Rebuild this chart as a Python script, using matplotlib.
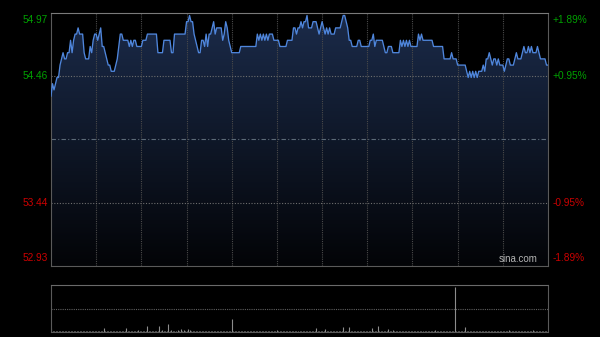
import numpy as np
import matplotlib
matplotlib.use('Agg')
import matplotlib.pyplot as plt
from matplotlib.patches import Polygon
from matplotlib.colors import LinearSegmentedColormap

# intraday prices, one per minute (0 = open, 330 = close)
price = [
    54.30, 54.40, 54.35, 54.40, 54.45, 54.45, 54.55, 54.60, 54.65, 54.60,
    54.60, 54.65, 54.65, 54.75, 54.65, 54.75, 54.80, 54.80, 54.85, 54.80,
    54.80, 54.80, 54.65, 54.60, 54.60, 54.60, 54.70, 54.65, 54.75, 54.80,
    54.80, 54.75, 54.80, 54.85, 54.70, 54.70, 54.65, 54.60, 54.55, 54.55,
    54.50, 54.50, 54.50, 54.55, 54.60, 54.70, 54.80, 54.80, 54.75, 54.75,
    54.75, 54.75, 54.70, 54.75, 54.70, 54.75, 54.75, 54.70, 54.70, 54.70,
    54.70, 54.75, 54.75, 54.75, 54.80, 54.80, 54.80, 54.80, 54.80, 54.80,
    54.80, 54.65, 54.65, 54.65, 54.65, 54.75, 54.75, 54.75, 54.75, 54.75,
    54.65, 54.65, 54.80, 54.80, 54.80, 54.80, 54.80, 54.80, 54.80, 54.80,
    54.90, 54.90, 54.95, 54.90, 54.90, 54.80, 54.75, 54.70, 54.65, 54.65,
    54.75, 54.75, 54.70, 54.80, 54.70, 54.80, 54.80, 54.85, 54.90, 54.80,
    54.85, 54.85, 54.85, 54.85, 54.75, 54.80, 54.90, 54.85, 54.75, 54.70,
    54.65, 54.65, 54.65, 54.65, 54.65, 54.65, 54.70, 54.70, 54.70, 54.70,
    54.70, 54.70, 54.70, 54.70, 54.70, 54.70, 54.70, 54.80, 54.75, 54.80,
    54.75, 54.80, 54.75, 54.80, 54.75, 54.80, 54.80, 54.80, 54.75, 54.75,
    54.75, 54.75, 54.70, 54.70, 54.70, 54.70, 54.70, 54.75, 54.75, 54.75,
    54.75, 54.85, 54.85, 54.80, 54.85, 54.85, 54.90, 54.85, 54.90, 54.90,
    54.95, 54.85, 54.85, 54.85, 54.90, 54.90, 54.90, 54.85, 54.80, 54.85,
    54.90, 54.85, 54.80, 54.85, 54.80, 54.85, 54.80, 54.80, 54.80, 54.85,
    54.85, 54.85, 54.85, 54.90, 54.95, 54.95, 54.90, 54.85, 54.75, 54.75,
    54.70, 54.70, 54.70, 54.70, 54.75, 54.75, 54.70, 54.70, 54.70, 54.70,
    54.70, 54.70, 54.75, 54.75, 54.80, 54.70, 54.75, 54.75, 54.75, 54.75,
    54.75, 54.70, 54.65, 54.65, 54.70, 54.70, 54.70, 54.65, 54.65, 54.65,
    54.65, 54.65, 54.75, 54.70, 54.75, 54.70, 54.75, 54.70, 54.75, 54.70,
    54.70, 54.70, 54.70, 54.70, 54.80, 54.75, 54.80, 54.75, 54.75, 54.75,
    54.75, 54.75, 54.75, 54.75, 54.70, 54.70, 54.70, 54.70, 54.70, 54.70,
    54.70, 54.60, 54.60, 54.60, 54.60, 54.60, 54.65, 54.60, 54.60, 54.60,
    54.55, 54.55, 54.55, 54.55, 54.55, 54.55, 54.50, 54.45, 54.50, 54.45,
    54.50, 54.45, 54.50, 54.45, 54.50, 54.50, 54.50, 54.55, 54.50, 54.60,
    54.60, 54.65, 54.60, 54.55, 54.60, 54.60, 54.55, 54.60, 54.55, 54.55,
    54.55, 54.50, 54.55, 54.60, 54.60, 54.55, 54.55, 54.55, 54.60, 54.65,
    54.60, 54.60, 54.60, 54.65, 54.70, 54.65, 54.65, 54.70, 54.65, 54.70,
    54.65, 54.65, 54.65, 54.70, 54.65, 54.60, 54.60, 54.60, 54.60, 54.55, 54.55,
]

# volume per minute (relative units)
volume = [
    8, 3, 2, 3, 2, 3, 2, 2, 3, 2,
    2, 3, 2, 2, 3, 2, 2, 3, 2, 2,
    3, 2, 2, 3, 2, 3, 2, 2, 2, 3,
    2, 3, 2, 3, 2, 8, 3, 2, 3, 2,
    2, 3, 2, 2, 3, 2, 3, 2, 2, 3,
    9, 3, 2, 3, 2, 2, 3, 2, 4, 2,
    3, 2, 3, 2, 13, 3, 2, 3, 2, 3,
    2, 3, 13, 3, 4, 2, 3, 3, 17, 3,
    4, 3, 2, 3, 4, 3, 6, 3, 4, 3,
    3, 6, 4, 3, 3, 2, 3, 2, 3, 2,
    2, 3, 2, 2, 3, 2, 2, 3, 2, 2,
    3, 2, 2, 3, 2, 3, 2, 2, 3, 3,
    28, 2, 2, 3, 2, 2, 2, 3, 2, 2,
    2, 3, 2, 2, 2, 3, 2, 2, 3, 2,
    2, 2, 3, 2, 2, 3, 2, 2, 2, 3,
    5, 2, 2, 3, 2, 2, 3, 2, 2, 2,
    3, 2, 2, 2, 3, 2, 2, 3, 2, 2,
    2, 3, 2, 2, 3, 2, 9, 3, 2, 2,
    3, 2, 6, 2, 3, 2, 2, 3, 2, 2,
    3, 2, 3, 2, 11, 3, 2, 3, 11, 3,
    2, 3, 2, 2, 3, 2, 2, 3, 2, 2,
    3, 2, 3, 9, 3, 2, 3, 13, 3, 2,
    3, 2, 3, 2, 6, 3, 2, 5, 2, 3,
    2, 2, 3, 2, 2, 3, 2, 2, 3, 2,
    2, 3, 2, 2, 3, 2, 2, 3, 2, 2,
    3, 2, 2, 3, 2, 5, 2, 3, 2, 2,
    3, 2, 2, 3, 2, 2, 3, 2, 96, 3,
    2, 3, 2, 3, 2, 11, 3, 2, 3, 2,
    2, 3, 2, 2, 3, 2, 2, 3, 2, 2,
    3, 2, 2, 3, 2, 2, 3, 2, 2, 3,
    2, 2, 3, 2, 5, 2, 3, 2, 2, 3,
    2, 2, 3, 2, 2, 3, 2, 2, 3, 2,
    5, 2, 3, 2, 2, 3, 2, 3, 2, 3, 3,
]

prev_close = 53.95
y_low, y_high = 52.93, 54.97
price_labels = ['54.97', '54.46', '53.44', '52.93']
price_levels = [54.97, 54.46, 53.44, 52.93]
pct_labels = ['+1.89%', '+0.95%', '-0.95%', '-1.89%']
grid_minutes = [30, 60, 90, 120, 150, 180, 210, 240, 270, 300]

minutes = np.arange(len(price))
x_end = len(price) - 1

plt.rcParams['font.family'] = ['Liberation Sans', 'DejaVu Sans']

fig = plt.figure(figsize=(6, 3.37), dpi=100, facecolor='black')
ax = fig.add_axes([51 / 600, 1 - 266 / 337, 497 / 600, 253 / 337])
vax = fig.add_axes([51 / 600, 1 - 332 / 337, 497 / 600, 47 / 337])

# price panel
ax.set_facecolor('black')
ax.set_xlim(0, x_end)
ax.set_ylim(y_low, y_high)

# gradient fill under the price line
verts = [(0, y_low)] + list(zip(minutes, price)) + [(x_end, y_low)]
area = Polygon(verts, closed=True, facecolor='none', edgecolor='none')
ax.add_patch(area)
cmap = LinearSegmentedColormap.from_list('fade', ['#030407', '#1b2b4a'])
grad = np.linspace(0, 1, 256).reshape(-1, 1)
im = ax.imshow(grad, extent=[0, x_end, y_low, y_high], aspect='auto',
               cmap=cmap, origin='lower', zorder=1)
im.set_clip_path(area)

for m in grid_minutes:
    ax.axvline(m, color='#4a4a4a', lw=0.8, ls=(0, (1, 1)), zorder=2)
for lv in [54.46, 53.44]:
    ax.axhline(lv, color='#6e6e6e', lw=0.8, ls=(0, (1, 1.5)), zorder=2)
ax.axhline(prev_close, color='#5c6a78', lw=0.8, ls=(0, (4, 2, 1, 2)), zorder=2)

ax.plot(minutes, price, color='#4f86dc', lw=0.95, zorder=3)

ax.set_xticks([])
ax.set_yticks([])
for side in ['left', 'right', 'bottom']:
    ax.spines[side].set_color('#5a5a5a')
ax.spines['top'].set_color('#7a7a7a')

# price and percent labels
for i, (lab, lv, pct) in enumerate(zip(price_labels, price_levels, pct_labels)):
    col = '#00a000' if lv > prev_close else '#cc0000'
    if i == 0:
        va, dy = 'top', -1.5
    elif i == len(price_labels) - 1:
        va, dy = 'bottom', 2
    else:
        va, dy = 'center', 0
    ax.annotate(lab, xy=(0, lv), xycoords=ax.get_yaxis_transform(),
                xytext=(-2.5, dy), textcoords='offset points',
                ha='right', va=va, color=col, fontsize=7.3)
    ax.annotate(pct, xy=(1, lv), xycoords=ax.get_yaxis_transform(),
                xytext=(3.5, dy), textcoords='offset points',
                ha='left', va=va, color=col, fontsize=7.3)

ax.text(0.979, 0.008, 'sina.com', transform=ax.transAxes, ha='right',
        va='bottom', color='#b4b4b4', fontsize=7)

# volume panel
vax.set_facecolor('black')
vax.set_xlim(0, x_end)
vax.set_ylim(0, 100)
vax.vlines(minutes, 0, volume, color='#8c8c8c', lw=0.8)
vax.axhline(50, color='#5e5e5e', lw=0.8, ls=(0, (1, 1)))
vax.set_xticks([])
vax.set_yticks([])
for side in ['left', 'right', 'bottom']:
    vax.spines[side].set_color('#5a5a5a')
vax.spines['top'].set_color('#6a6a6a')
vax.spines['top'].set_linestyle((0, (1, 1)))

plt.savefig('out.png', dpi=100, facecolor='black')
